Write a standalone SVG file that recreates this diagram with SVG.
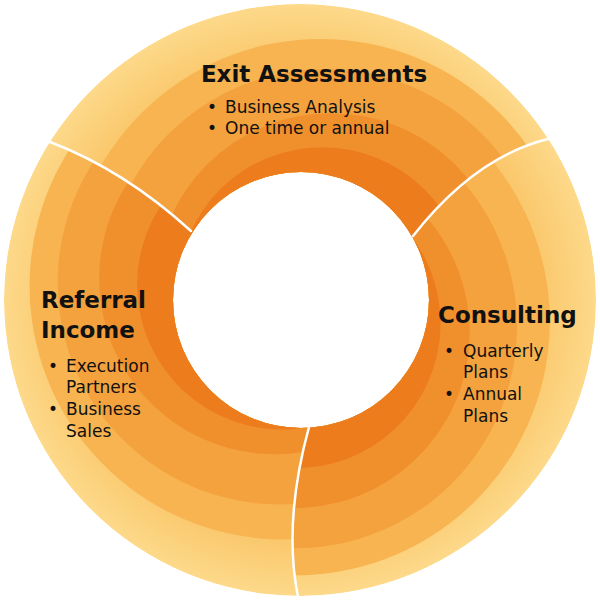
<svg xmlns="http://www.w3.org/2000/svg" width="600" height="600" viewBox="0 0 600 600">
<defs>
<style>
.h{font-family:"DejaVu Sans","Liberation Sans",sans-serif;font-weight:700;font-size:23px;fill:#111}
.b{font-family:"DejaVu Sans","Liberation Sans",sans-serif;font-size:17px;fill:#111}
.div{fill:none;stroke:#fff;stroke-width:2.5;stroke-linecap:round}
</style>
<radialGradient id="rim" cx="300" cy="300" r="296" gradientUnits="userSpaceOnUse">
<stop offset="0.75" stop-color="#F9C262"/>
<stop offset="1" stop-color="#FDD98A"/>
</radialGradient>
<clipPath id="ring"><path clip-rule="evenodd" d="M4,300a296,296 0 1,0 592,0a296,296 0 1,0 -592,0Z M173,300a128,128 0 1,0 256,0a128,128 0 1,0 -256,0Z"/></clipPath>
<clipPath id="segTop"><path d="M300,300 L191,231 Q124,170 50,142 L-20,100 L-20,-20 L620,-20 L620,100 L548,139 Q475,157 413,236 Z"/></clipPath>
<clipPath id="segRight"><path d="M300,300 L413,236 Q475,157 548,139 L620,100 L620,620 L310,640 L298,597 Q283,522 309,427 Z"/></clipPath>
<clipPath id="segLeft"><path d="M300,300 L309,427 Q283,522 298,597 L310,640 L-20,640 L-20,100 L50,142 Q124,170 191,231 Z"/></clipPath>
<g id="swirl">
<circle cx="320.6" cy="292.5" r="253.6" fill="#F7B451"/>
<circle cx="325.3" cy="290.8" r="221.7" fill="#F4A23E"/>
<circle cx="331.1" cy="288.7" r="175.5" fill="#F0902D"/>
<circle cx="322.3" cy="291.9" r="144.7" fill="#EC7C1C"/>
</g>
</defs>
<rect width="600" height="600" fill="#fff"/>
<g id="ring-body" clip-path="url(#ring)">
<circle cx="300" cy="300" r="296" fill="url(#rim)"/>
<g id="seg-exit" clip-path="url(#segTop)"><use href="#swirl"/></g>
<g id="seg-consulting" clip-path="url(#segRight)"><use href="#swirl" transform="rotate(120 300 300)"/></g>
<g id="seg-referral" clip-path="url(#segLeft)"><use href="#swirl" transform="rotate(240 300 300)"/></g>
</g>
<g id="connectors">
<path class="div" d="M50,142 Q124,170 191,231"/>
<path class="div" d="M548,139 Q475,157 413,236"/>
<path class="div" d="M309,427 Q283,522 298,597"/>
</g>
<g id="node-exit">
<text class="h" x="314" y="82" text-anchor="middle">Exit Assessments</text>
<text class="b" x="207" y="113">•</text><text class="b" x="225" y="113">Business Analysis</text>
<text class="b" x="207" y="134">•</text><text class="b" x="225" y="134">One time or annual</text>
</g>
<g id="node-referral">
<text class="h" x="41" y="308">Referral</text>
<text class="h" x="41" y="338">Income</text>
<text class="b" x="48" y="372">•</text><text class="b" x="66" y="372">Execution</text>
<text class="b" x="66" y="393">Partners</text>
<text class="b" x="48" y="415">•</text><text class="b" x="66" y="415">Business</text>
<text class="b" x="66" y="437">Sales</text>
</g>
<g id="node-consulting">
<text class="h" x="438" y="323">Consulting</text>
<text class="b" x="444" y="357">•</text><text class="b" x="463" y="357">Quarterly</text>
<text class="b" x="463" y="378">Plans</text>
<text class="b" x="444" y="400">•</text><text class="b" x="463" y="400">Annual</text>
<text class="b" x="463" y="422">Plans</text>
</g>
</svg>
